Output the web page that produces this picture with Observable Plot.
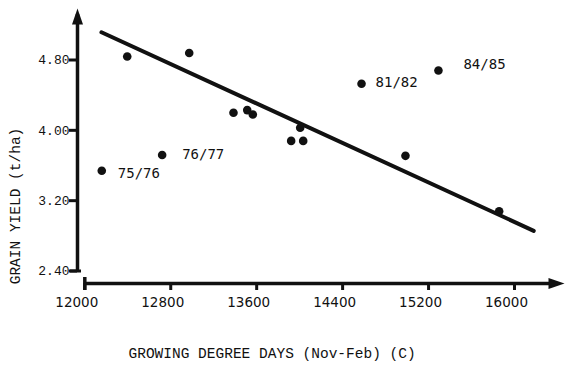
<!DOCTYPE html>
<html>
<head>
<meta charset="utf-8">
<script src="https://cdn.jsdelivr.net/npm/d3@7"></script>
<script src="https://cdn.jsdelivr.net/npm/@observablehq/plot@0.6"></script>
<style>
  html, body { margin: 0; padding: 0; background: #fff; }
  #chart svg { display: block; }
</style>
</head>
<body>
<div id="chart"></div>
<script>
// ---- data ----
const gdd      = [12395, 12972, 12158, 12720, 13384, 13512, 13564, 13921, 14005, 14033, 14576, 14985, 15292, 15857];
const grainYld = [4.84, 4.88, 3.54, 3.72, 4.20, 4.23, 4.18, 3.88, 4.03, 3.88, 4.53, 3.71, 4.68, 3.08];
const season   = ["", "", "75/76", "76/77", "", "", "", "", "", "", "81/82", "", "84/85", ""];
const fitGdd   = [12155, 16179];
const fitYld   = [5.116, 2.857];
const xTicks   = [12000, 12800, 13600, 14400, 15200, 16000];
const yTicks   = [2.40, 3.20, 4.00, 4.80];
const xTitle   = "GROWING DEGREE DAYS (Nov-Feb) (C)";
const yTitle   = "GRAIN YIELD (t/ha)";

// ---- layout ----
const W = 566, H = 365;
const xDomain = [12000, 16000], xRange = [84.3, 514];
const yDomain = [2.4, 4.8], yRange = [270.5, 59.5];
const mLeft = 77, mBottom = 82;
const sx = d3.scaleLinear(xDomain, xRange);
const sy = d3.scaleLinear(yDomain, yRange);
const yAxisAt = sx.invert(mLeft);
const xAxisAt = sy.invert(H - mBottom);
const yTop = sy.invert(8);
const xEnd = sx.invert(564);

const points = gdd.map((g, i) => ({gdd: g, yld: grainYld[i], season: season[i]}));
const fit = fitGdd.map((g, i) => ({gdd: g, yld: fitYld[i]}));

const arrowHead = {
  draw(ctx) {
    ctx.moveTo(0, 0);
    ctx.lineTo(5.5, 16);
    ctx.lineTo(-5.5, 16);
    ctx.closePath();
  }
};

const labelOffset = {"75/76": [16, 3], "76/77": [20, 0], "81/82": [14, -1], "84/85": [25, -6]};
const labelMarks = points.filter(d => d.season).map(d =>
  Plot.text([d], {
    x: "gdd", y: "yld", text: "season",
    dx: labelOffset[d.season][0], dy: labelOffset[d.season][1],
    textAnchor: "start", fontFamily: "DejaVu Sans Mono", fontSize: 14, fill: "#111"
  })
);

const chart = Plot.plot({
  width: W, height: H,
  marginLeft: mLeft, marginBottom: mBottom, marginTop: 0, marginRight: 0,
  style: {background: "#fff", color: "#111"},
  x: {domain: xDomain, range: xRange},
  y: {domain: yDomain, range: yRange},
  marks: [
    // axis lines with arrows
    Plot.ruleX([yAxisAt], {y1: sy.invert(272), y2: sy.invert(14), strokeWidth: 3.5, stroke: "#111"}),
    Plot.ruleY([2.4], {x1: sx.invert(70), x2: sx.invert(81), strokeWidth: 3, stroke: "#111"}),
    Plot.dot([0], {x: () => yAxisAt, y: () => yTop, symbol: arrowHead, fill: "#111", stroke: null}),
    Plot.ruleY([xAxisAt], {x1: 12000, x2: sx.invert(552), strokeWidth: 3.5, stroke: "#111"}),
    Plot.ruleX([12000], {y1: sy.invert(277), y2: sy.invert(290), strokeWidth: 3.5, stroke: "#111"}),
    Plot.dot([0], {x: () => xEnd, y: () => xAxisAt, symbol: arrowHead, rotate: 90, fill: "#111", stroke: null}),
    // axes
    Plot.axisY(yTicks, {tickSize: 8, tickPadding: 0, strokeWidth: 3, tickFormat: d => d.toFixed(2),
      fontFamily: "Liberation Mono", fontSize: 13, label: null}),
    Plot.axisX(xTicks, {tickSize: 7, strokeWidth: 3, fill: "none", label: null}),
    Plot.axisX(xTicks, {tickSize: 7, tickPadding: 7, stroke: "none", dx: -8, tickFormat: d => String(d),
      fontFamily: "DejaVu Sans", fontSize: 13.5, label: null}),
    // regression line
    Plot.line(fit, {x: "gdd", y: "yld", strokeWidth: 4, stroke: "#111"}),
    // observations
    Plot.dot(points, {x: "gdd", y: "yld", r: 4.3, fill: "#111", stroke: null}),
    ...labelMarks,
    // titles
    Plot.text([xTitle], {frameAnchor: "bottom-left", dx: 51, dy: 74, textAnchor: "start",
      fontFamily: "Liberation Mono", fontSize: 14.5, fill: "#111"}),
    Plot.text([yTitle], {frameAnchor: "left", dx: -62, dy: 64, rotate: -90, textAnchor: "middle",
      fontFamily: "Liberation Mono", fontSize: 14.5, fill: "#111"})
  ]
});
document.getElementById("chart").appendChild(chart);
</script>
</body>
</html>
